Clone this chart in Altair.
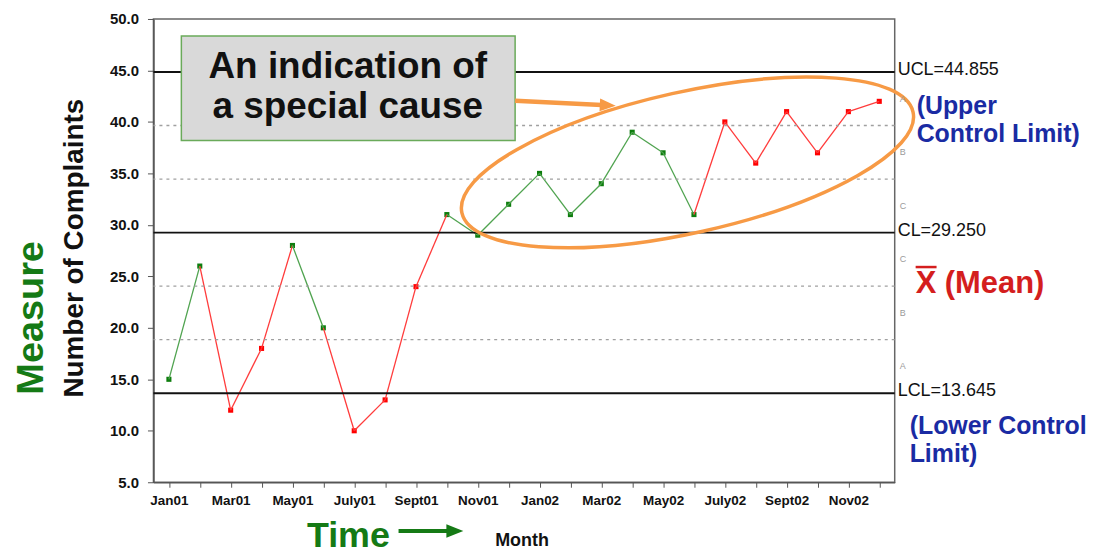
import altair as alt
import pandas as pd

# ---------------- data ----------------
MONTHS = ["Jan01", "Feb01", "Mar01", "Apr01", "May01", "June01", "July01", "Aug01",
          "Sept01", "Oct01", "Nov01", "Dec01", "Jan02", "Feb02", "Mar02", "Apr02",
          "May02", "June02", "July02", "Aug02", "Sept02", "Oct02", "Nov02", "Dec02"]
COMPLAINTS = [15, 26, 12, 18, 28, 20, 10, 13, 24, 31, 29, 32,
              35, 31, 34, 39, 37, 31, 40, 36, 41, 37, 41, 42]
# group of each plotted point and of each connecting segment ("in" / "out")
POINT_GROUP = ["in", "in", "out", "out", "in", "in", "out", "out", "out", "in", "in", "in",
               "in", "in", "in", "in", "in", "in", "out", "out", "out", "out", "out", "out"]
SEGMENT_GROUP = ["in", "out", "out", "out", "in", "out", "out", "out", "out", "in", "in",
                 "in", "in", "in", "in", "in", "in", "out", "out", "out", "out", "out", "out"]
UCL, CL, LCL = 44.855, 29.250, 13.645
ZONE_LETTERS = ["A", "B", "C", "C", "B", "A"]

# ---------------- tables ----------------
sigma = (UCL - CL) / 3.0
zone_df = pd.DataFrame({"y": [CL + 2 * sigma, CL + sigma, CL - sigma, CL - 2 * sigma]})
limit_df = pd.DataFrame({
    "y": [UCL, CL, LCL],
    "w": [2.0, 1.6, 2.0],
    "label": [f"UCL={UCL:.3f}", f"CL={CL:.3f}", f"LCL={LCL:.3f}"],
})
letter_df = pd.DataFrame({
    "y": [CL + 2.5 * sigma, CL + 1.5 * sigma, CL + 0.5 * sigma,
          CL - 0.5 * sigma, CL - 1.5 * sigma, CL - 2.5 * sigma],
    "t": ZONE_LETTERS,
})
pts_df = pd.DataFrame({"i": list(range(len(MONTHS))), "month": MONTHS,
                       "v": COMPLAINTS, "grp": POINT_GROUP})
seg_rows = []
for s, g in enumerate(SEGMENT_GROUP):
    for j in (s, s + 1):
        seg_rows.append({"i": j, "v": COMPLAINTS[j], "seg": s, "sgrp": g})
seg_df = pd.DataFrame(seg_rows)
one_df = pd.DataFrame({"k": [0]})

W, H = 744, 465
FONT = "Liberation Sans"
ORANGE = "#f79a45"
GREEN_TXT = "#157a15"
BLUE_TXT = "#1a2ba3"
RED_TXT = "#d41e1e"

x_scale = alt.Scale(domain=[-0.5, len(MONTHS) - 0.5], nice=False, zero=False)
y_scale = alt.Scale(domain=[5, 50], nice=False, zero=False)

months_js = "[" + ",".join(f"'{m}'" for m in MONTHS) + "]"
x_axis = alt.Axis(values=list(range(len(MONTHS))),
                  labelExpr=f"datum.value % 2 === 0 ? {months_js}[datum.value] : ''",
                  labelOverlap=False, labelFlush=False, title=None, grid=False,
                  labelFont=FONT, labelFontSize=13.5, labelFontWeight="bold", labelColor="#111",
                  tickSize=5, labelPadding=6, domainColor="#555", tickColor="#555", domainWidth=1.5)
y_axis = alt.Axis(values=list(range(5, 51, 5)), format=".1f", title=None, grid=False,
                  labelFont=FONT, labelFontSize=15, labelFontWeight="bold", labelColor="#111",
                  tickSize=6, labelPadding=9, domainColor="#555", tickColor="#555", domainWidth=1.5)

X = lambda f: alt.X(f, scale=x_scale, axis=x_axis)
Y = lambda f: alt.Y(f, scale=y_scale, axis=y_axis)

# ---------------- layers ----------------
zones = alt.Chart(zone_df).mark_rule(color="#a0a0a0", strokeWidth=1.3, strokeDash=[3, 4]).encode(
    y=Y("y:Q"))

limits = alt.Chart(limit_df).mark_rule(color="#111").encode(
    y=Y("y:Q"), strokeWidth=alt.StrokeWidth("w:Q", scale=None))

limit_text = alt.Chart(limit_df).mark_text(align="left", baseline="middle", dx=3, dy=-2,
                                           font=FONT, fontSize=18, color="#111").encode(
    x=alt.value(W), y=Y("y:Q"), text="label:N")

letters = alt.Chart(letter_df).mark_text(align="left", baseline="middle", dx=5,
                                         font=FONT, fontSize=9, color="#9a9a9a").encode(
    x=alt.value(W), y=Y("y:Q"), text="t:N")

lines = alt.Chart(seg_df).mark_line(strokeWidth=1.3).encode(
    x=X("i:Q"), y=Y("v:Q"),
    detail="seg:N",
    color=alt.Color("sgrp:N", scale=alt.Scale(domain=["in", "out"], range=["#4fa34f", "#ff3b3b"]),
                    legend=None))

points = alt.Chart(pts_df).mark_square(size=26, opacity=1).encode(
    x=X("i:Q"), y=Y("v:Q"),
    color=alt.Color("grp:N", scale=alt.Scale(domain=["in", "out"], range=["#0e7d0e", "#ff0000"]),
                    legend=None))

box = alt.Chart(one_df).mark_rect(fill="#d9d9d9", stroke="#6aaa5a", strokeWidth=1.5).encode(
    x=alt.value(28), x2=alt.value(363), y=alt.value(17), y2=alt.value(122))

box_text = alt.Chart(one_df).mark_text(align="center", baseline="alphabetic", font=FONT,
                                       fontSize=37, fontWeight="bold", color="#111",
                                       lineHeight=40,
                                       text=["An indication of", "a special cause"]).encode(
    x=alt.value(195), y=alt.value(59))

arrow_shaft = alt.Chart(one_df).mark_rule(color=ORANGE, strokeWidth=4.5).encode(
    x=alt.value(363), y=alt.value(82), x2=alt.value(450), y2=alt.value(86.3))

HEAD = "M 1 0 L -1 -0.8 L -1 0.8 Z"
arrow_head = alt.Chart(one_df).mark_point(shape=HEAD, filled=True, color=ORANGE, opacity=1,
                                          size=256, angle=3).encode(
    x=alt.value(456), y=alt.value(86.6))

k, r = 0.5523, 0.305
ELLIPSE = (f"M -1 0 C -1 {-k*r:.4f} {-k:.4f} {-r} 0 {-r} "
           f"C {k:.4f} {-r} 1 {-k*r:.4f} 1 0 "
           f"C 1 {k*r:.4f} {k:.4f} {r} 0 {r} "
           f"C {-k:.4f} {r} -1 {k*r:.4f} -1 0 Z")
ellipse = alt.Chart(one_df).mark_point(shape=ELLIPSE, filled=False, color=ORANGE, opacity=1,
                                       strokeWidth=3.5, size=464 * 464, angle=347.4).encode(
    x=alt.value(536), y=alt.value(144))

upper_txt = alt.Chart(one_df).mark_text(align="left", baseline="alphabetic", font=FONT,
                                        fontSize=25, fontWeight="bold", color=BLUE_TXT,
                                        lineHeight=28, text=["(Upper", "Control Limit)"]).encode(
    x=alt.value(766), y=alt.value(95))

lower_txt = alt.Chart(one_df).mark_text(align="left", baseline="alphabetic", font=FONT,
                                        fontSize=25, fontWeight="bold", color=BLUE_TXT,
                                        lineHeight=28, text=["(Lower Control", "Limit)"]).encode(
    x=alt.value(759), y=alt.value(417))

mean_txt = alt.Chart(one_df).mark_text(align="left", baseline="alphabetic", font=FONT,
                                       fontSize=31, fontWeight="bold", color=RED_TXT,
                                       text="X (Mean)").encode(
    x=alt.value(765), y=alt.value(275))

mean_bar = alt.Chart(one_df).mark_rule(color=RED_TXT, strokeWidth=2.5).encode(
    x=alt.value(765), x2=alt.value(786), y=alt.value(249), y2=alt.value(249))

measure = alt.Chart(one_df).mark_text(align="center", baseline="alphabetic", angle=270, font=FONT,
                                      fontSize=38, fontWeight="bold", color=GREEN_TXT,
                                      text="Measure").encode(
    x=alt.value(-111), y=alt.value(300))

ytitle = alt.Chart(one_df).mark_text(align="center", baseline="alphabetic", angle=270, font=FONT,
                                     fontSize=28, fontWeight="bold", color="#111",
                                     text="Number of Complaints").encode(
    x=alt.value(-71), y=alt.value(230))

time_txt = alt.Chart(one_df).mark_text(align="left", baseline="alphabetic", font=FONT,
                                       fontSize=36, fontWeight="bold", color=GREEN_TXT,
                                       text="Time").encode(
    x=alt.value(154), y=alt.value(530))

time_shaft = alt.Chart(one_df).mark_rule(color=GREEN_TXT, strokeWidth=4).encode(
    x=alt.value(246), x2=alt.value(298), y=alt.value(514), y2=alt.value(514))

time_head = alt.Chart(one_df).mark_point(shape=HEAD, filled=True, color=GREEN_TXT, opacity=1,
                                         size=289).encode(
    x=alt.value(302.5), y=alt.value(514))

month_txt = alt.Chart(one_df).mark_text(align="left", baseline="alphabetic", font=FONT,
                                        fontSize=18, fontWeight="bold", color="#111",
                                        text="Month").encode(
    x=alt.value(343), y=alt.value(529))

chart = alt.layer(
    points, lines, zones, limits, limit_text,
    box, box_text, arrow_shaft, arrow_head, ellipse, letters,
    upper_txt, lower_txt, mean_txt, mean_bar, measure, ytitle,
    time_txt, time_shaft, time_head, month_txt,
).resolve_scale(color="independent").properties(
    width=W, height=H,
    autosize=alt.AutoSizeParams(type="none"),
    padding={"left": 146, "top": 10, "right": 192, "bottom": 71},
).configure_view(stroke="#666", strokeWidth=1.5)

chart.save("out.html", embed_options={"renderer": "svg", "actions": False})
